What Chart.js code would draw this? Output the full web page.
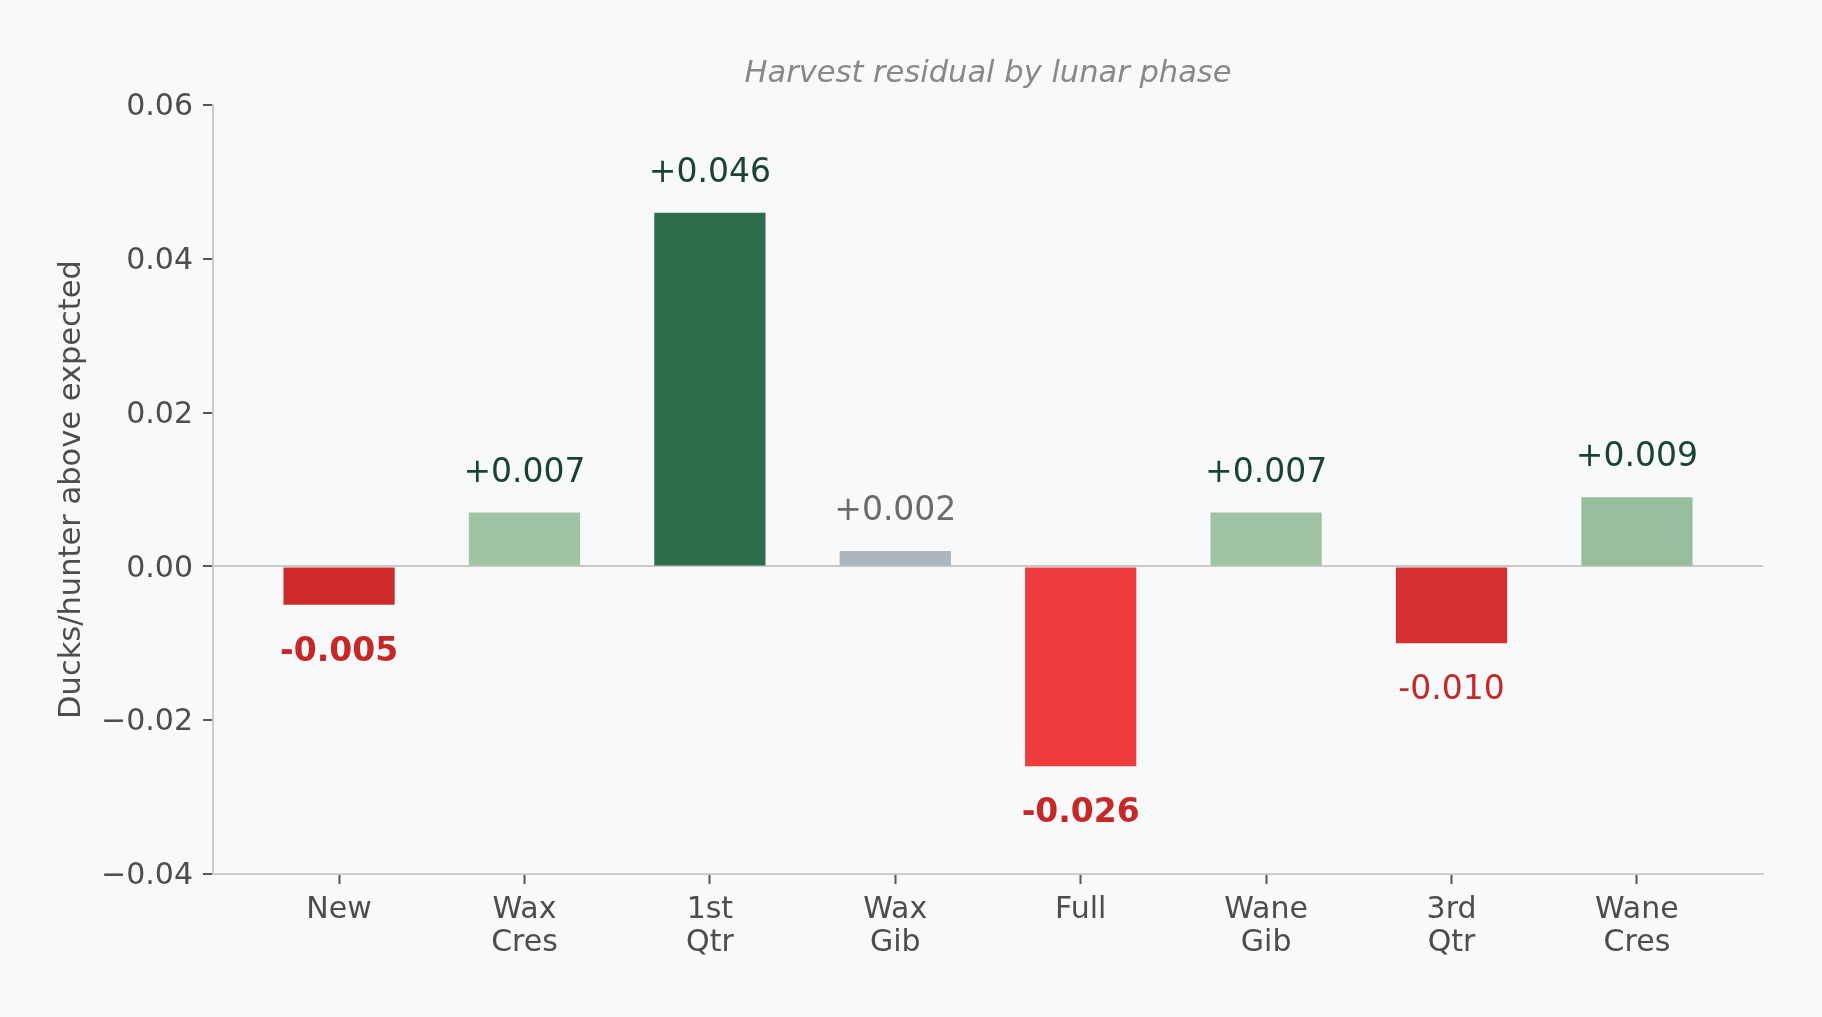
<!DOCTYPE html>
<html>
<head>
<meta charset="utf-8">
<script src="https://cdn.jsdelivr.net/npm/chart.js@4"></script>
<style>
  html, body { margin: 0; padding: 0; background: #f8f9fa; }
  #wrap { width: 1822px; height: 1017px; }
</style>
</head>
<body>
<div id="wrap"><canvas id="c" width="1822" height="1017"></canvas></div>
<script>
const phases = ['New', 'Wax Cres', '1st Qtr', 'Wax Gib', 'Full', 'Wane Gib', '3rd Qtr', 'Wane Cres'];
const residuals = [-0.005, 0.007, 0.046, 0.002, -0.026, 0.007, -0.010, 0.009];
const valueLabels = ['-0.005', '+0.007', '+0.046', '+0.002', '-0.026', '+0.007', '-0.010', '+0.009'];
const yTicks = [-0.04, -0.02, 0.00, 0.02, 0.04, 0.06];
const barColors = ['#cf2a2a', '#a0c3a3', '#2c6e4b', '#adb5bd', '#ef3b3b', '#a0c3a3', '#d63031', '#98bd9d'];
const boldLabels = ['New', 'Full'];
const mutedLabels = ['Wax Gib'];

const FONT = "'DejaVu Sans', 'Liberation Sans', sans-serif";

const bgPlugin = {
  id: 'bg',
  beforeDraw(chart) {
    const ctx = chart.ctx;
    ctx.save();
    ctx.fillStyle = '#f8f9fa';
    ctx.fillRect(0, 0, chart.width, chart.height);
    ctx.restore();
  }
};

const labelPlugin = {
  id: 'valueLabels',
  afterDatasetsDraw(chart) {
    const ctx = chart.ctx;
    const meta = chart.getDatasetMeta(0);
    ctx.save();
    ctx.textAlign = 'center';
    ctx.textBaseline = 'middle';
    meta.data.forEach((bar, i) => {
      const v = residuals[i];
      const bold = boldLabels.includes(phases[i]);
      ctx.font = (bold ? 'bold ' : '') + '33px ' + FONT;
      let color = v >= 0 ? '#1b4332' : '#c62828';
      if (mutedLabels.includes(phases[i])) color = '#6b6b6b';
      ctx.fillStyle = color;
      const y = v >= 0 ? bar.y - 39.5 : bar.y + 47.5;
      ctx.fillText(valueLabels[i], bar.x, y);
    });
    ctx.restore();
  },
  afterDraw(chart) {
    const ctx = chart.ctx;
    const a = chart.chartArea;
    ctx.save();
    ctx.textAlign = 'center';
    ctx.textBaseline = 'middle';
    ctx.font = 'italic 30.5px ' + FONT;
    ctx.fillStyle = '#888888';
    ctx.fillText('Harvest residual by lunar phase', (a.left + a.right) / 2, 74.5);
    ctx.restore();
  }
};

new Chart(document.getElementById('c'), {
  type: 'bar',
  data: {
    datasets: [{
      data: residuals.map((v, i) => ({ x: i, y: v })),
      backgroundColor: barColors,
      borderWidth: 0,
      barPercentage: 0.6,
      categoryPercentage: 1.0
    }]
  },
  options: {
    responsive: false,
    devicePixelRatio: 1,
    animation: false,
    layout: { padding: { left: 0, right: 59, top: 105, bottom: 0 } },
    plugins: {
      legend: { display: false },
      tooltip: { enabled: false },
      title: { display: false }
    },
    scales: {
      x: {
        type: 'linear',
        min: -0.68,
        max: 7.68,
        offset: false,
        afterBuildTicks(scale) {
          scale.ticks = phases.map((_, i) => ({ value: i }));
        },
        afterFit(scale) { scale.height = 143; },
        ticks: {
          autoSkip: false,
          maxRotation: 0,
          minRotation: 0,
          padding: 10,
          color: '#4d4d4d',
          font: { family: FONT, size: 30, lineHeight: 1.083 },
          callback: (v) => {
            const name = phases[Math.round(v)];
            return name ? name.split(' ') : '';
          }
        },
        grid: {
          display: true,
          offset: false,
          drawOnChartArea: false,
          drawTicks: true,
          tickLength: 10,
          tickColor: '#555555',
          tickWidth: 2
        },
        border: { display: true, color: '#cccccc', width: 2 }
      },
      y: {
        min: -0.04,
        max: 0.06,
        afterBuildTicks(scale) {
          scale.ticks = yTicks.map(v => ({ value: v }));
        },
        afterFit(scale) { scale.width = 213; },
        ticks: {
          padding: 10,
          labelOffset: 2.5,
          color: '#4d4d4d',
          font: { family: FONT, size: 30 },
          callback: (v) => (v < -1e-9 ? '\u2212' : '') + Math.abs(v).toFixed(2)
        },
        grid: {
          display: true,
          drawOnChartArea: true,
          drawTicks: true,
          tickLength: 10,
          tickColor: '#555555',
          tickWidth: 2,
          lineWidth: 2,
          color: (ctx) => (ctx.tick && Math.abs(ctx.tick.value) < 1e-9) ? '#c8c8c8' : 'rgba(0,0,0,0)'
        },
        border: { display: true, color: '#cccccc', width: 2 },
        title: {
          display: true,
          text: 'Ducks/hunter above expected',
          color: '#4d4d4d',
          font: { family: FONT, size: 30.5 },
          padding: { top: 54, bottom: 0 }
        }
      }
    }
  },
  plugins: [bgPlugin, labelPlugin]
});
</script>
</body>
</html>
